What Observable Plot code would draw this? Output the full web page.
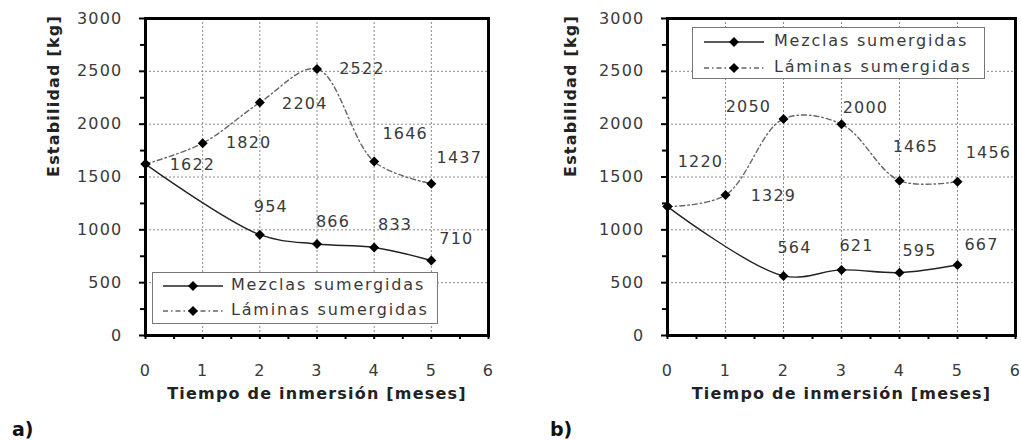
<!DOCTYPE html>
<html><head><meta charset="utf-8">
<script src="https://cdn.jsdelivr.net/npm/d3@7"></script>
<script src="https://cdn.jsdelivr.net/npm/@observablehq/plot@0.6"></script>
<style>
body{margin:0;background:#fff;}
#wrap{position:relative;width:1021px;height:440px;overflow:hidden;font-family:"DejaVu Sans",sans-serif;}
.panel{position:absolute;top:0;}
.legend{position:absolute;background:#fff;border:1.5px solid #777;box-sizing:border-box;}
.legend span{position:absolute;font-size:16px;letter-spacing:1.8px;color:#3a3a3a;line-height:1;white-space:nowrap;}
.cap{position:absolute;font:bold 19px "DejaVu Sans",sans-serif;color:#111;line-height:1;}
</style></head><body><div id="wrap"></div>
<script>
// ---- data ----
const seriesNames = ["Mezclas sumergidas", "Láminas sumergidas"];
const mezclasMonths = [0, 2, 3, 4, 5];
const laminasMonths = [0, 1, 2, 3, 4, 5];
const mezclasA = [1622, 954, 866, 833, 710];
const laminasA = [1622, 1820, 2204, 2522, 1646, 1437];
const mezclasB = [1220, 564, 621, 595, 667];
const laminasB = [1220, 1329, 2050, 2000, 1465, 1456];
const xTicks = [0, 1, 2, 3, 4, 5, 6];
const xMinorTicks = [0.5, 1.5, 2.5, 3.5, 4.5, 5.5];
const yTicks = [0, 500, 1000, 1500, 2000, 2500, 3000];
const yMinorTicks = [250, 750, 1250, 1750, 2250, 2750];
const xTitle = "Tiempo de inmersión [meses]";
const yTitle = "Estabilidad [kg]";
const panelCaptions = ["a)", "b)"];

// ---- label offsets in px (null = no label) ----
const mezclasLabelOffA = [null, [11, -28], [16, -22], [21, -23], [25, -22]];
const laminasLabelOffA = [[47, 1], [46, 0], [45, 1], [45, 0], [31, -28], [28, -26]];
const mezclasLabelOffB = [null, [11, -28], [15, -24], [20, -22], [24, -20]];
const laminasLabelOffB = [[33, -45], [48, 1], [-35, -12], [24, -16], [16, -34], [31, -29]];

const H = 412;
const layout = [
  {left: 0, width: 500, mL: 145, mR: 12, yTitleDx: -92, mez: mezclasA, lam: laminasA, mezOff: mezclasLabelOffA, lamOff: laminasLabelOffA,
   legend: {left: 152, top: 272, width: 286, height: 52, rows: [13, 38], textLeft: 78, lineFrom: 10, lineTo: 70}, cap: {left: 12, top: 420}},
  {left: 500, width: 521, mL: 167, mR: 6, yTitleDx: -97, mez: mezclasB, lam: laminasB, mezOff: mezclasLabelOffB, lamOff: laminasLabelOffB,
   legend: {left: 692, top: 27, width: 293, height: 52, rows: [14, 40], textLeft: 81, lineFrom: 11, lineTo: 71}, cap: {left: 550, top: 420}}
];

const wrap = document.getElementById("wrap");
const labelColor = "#3a3a3a";

layout.forEach((cfg, pi) => {
  const mez = mezclasMonths.map((m, i) => ({x: m, y: cfg.mez[i]}));
  const lam = laminasMonths.map((m, i) => ({x: m, y: cfg.lam[i]}));
  const labelMarks = [];
  [[mez, cfg.mezOff], [lam, cfg.lamOff]].forEach(([pts, offs]) => {
    pts.forEach((p, i) => {
      if (!offs[i]) return;
      labelMarks.push(Plot.text([p], {x: "x", y: "y", text: d => String(d.y), dx: offs[i][0], dy: offs[i][1], fill: labelColor, fontSize: 16}));
    });
  });
  const gridStyle = {stroke: "#8a8a8a", strokeOpacity: 1, strokeDasharray: "2,2", strokeWidth: 1};
  const chart = Plot.plot({
    width: cfg.width,
    height: H,
    marginLeft: cfg.mL,
    marginRight: cfg.mR,
    marginTop: 18,
    marginBottom: H - 335,
    x: {domain: [0, 6]},
    y: {domain: [0, 3000]},
    style: {fontFamily: "DejaVu Sans, sans-serif", fontSize: "16px", letterSpacing: "1.2px", color: labelColor, background: "transparent"},
    marks: [
      Plot.gridY(yTicks.slice(1, -1), gridStyle),
      Plot.gridX(xTicks.slice(1, -1), gridStyle),
      Plot.line(mez, {x: "x", y: "y", curve: "catmull-rom", stroke: "#222", strokeWidth: 1.4}),
      Plot.line(lam, {x: "x", y: "y", curve: "catmull-rom", stroke: "#666", strokeWidth: 1.4, strokeDasharray: "5,3,1.5,3"}),
      Plot.dot(mez, {x: "x", y: "y", symbol: "diamond2", r: 4.5, fill: "#000"}),
      Plot.dot(lam, {x: "x", y: "y", symbol: "diamond2", r: 4.5, fill: "#000"}),
      ...labelMarks,
      Plot.axisY(yMinorTicks, {tickSize: 5, strokeWidth: 2, stroke: "#000", tickFormat: () => "", label: null}),
      Plot.axisY(yTicks, {tickSize: 6, tickPadding: 17, strokeWidth: 2, stroke: "#000", fill: labelColor, tickFormat: d => String(d), label: null}),
      Plot.axisX(xMinorTicks, {tickSize: 4, strokeWidth: 2, stroke: "#000", tickFormat: () => "", label: null}),
      Plot.axisX(xTicks, {tickSize: 4, tickPadding: 25, strokeWidth: 2, stroke: "#000", fill: labelColor, tickFormat: d => String(d), label: null}),
      Plot.frame({stroke: "#000", strokeWidth: 3}),
      Plot.text([yTitle], {frameAnchor: "left", dx: cfg.yTitleDx, rotate: -90, fontWeight: "bold", fontSize: 16, fill: "#222"}),
      Plot.text([xTitle], {frameAnchor: "bottom", dy: 63, fontWeight: "bold", fontSize: 16, fill: "#222"})
    ]
  });
  const div = document.createElement("div");
  div.className = "panel";
  div.style.left = cfg.left + "px";
  div.appendChild(chart);
  wrap.appendChild(div);

  // legend
  const L = cfg.legend;
  const leg = document.createElement("div");
  leg.className = "legend";
  Object.assign(leg.style, {left: L.left + "px", top: L.top + "px", width: L.width + "px", height: L.height + "px"});
  wrap.appendChild(leg);
  const svg = d3.select(leg).append("svg").attr("width", L.textLeft).attr("height", L.height - 3)
    .style("position", "absolute").style("left", "0px").style("top", "0px");
  const styles = [{stroke: "#222", dash: null}, {stroke: "#666", dash: "5,3,1.5,3"}];
  seriesNames.forEach((name, i) => {
    const y = L.rows[i];
    svg.append("line").attr("x1", L.lineFrom).attr("x2", L.lineTo).attr("y1", y).attr("y2", y)
      .attr("stroke", styles[i].stroke).attr("stroke-width", 1.4).attr("stroke-dasharray", styles[i].dash);
    const cx = (L.lineFrom + L.lineTo) / 2, r = 5;
    svg.append("path").attr("d", `M${cx},${y - r}L${cx + r},${y}L${cx},${y + r}L${cx - r},${y}Z`).attr("fill", "#000");
    const sp = document.createElement("span");
    sp.textContent = name;
    sp.style.left = L.textLeft + "px";
    sp.style.top = (y - 9) + "px";
    leg.appendChild(sp);
  });

  const cap = document.createElement("div");
  cap.className = "cap";
  cap.textContent = panelCaptions[pi];
  cap.style.left = cfg.cap.left + "px";
  cap.style.top = cfg.cap.top + "px";
  wrap.appendChild(cap);
});
</script>
</body></html>
